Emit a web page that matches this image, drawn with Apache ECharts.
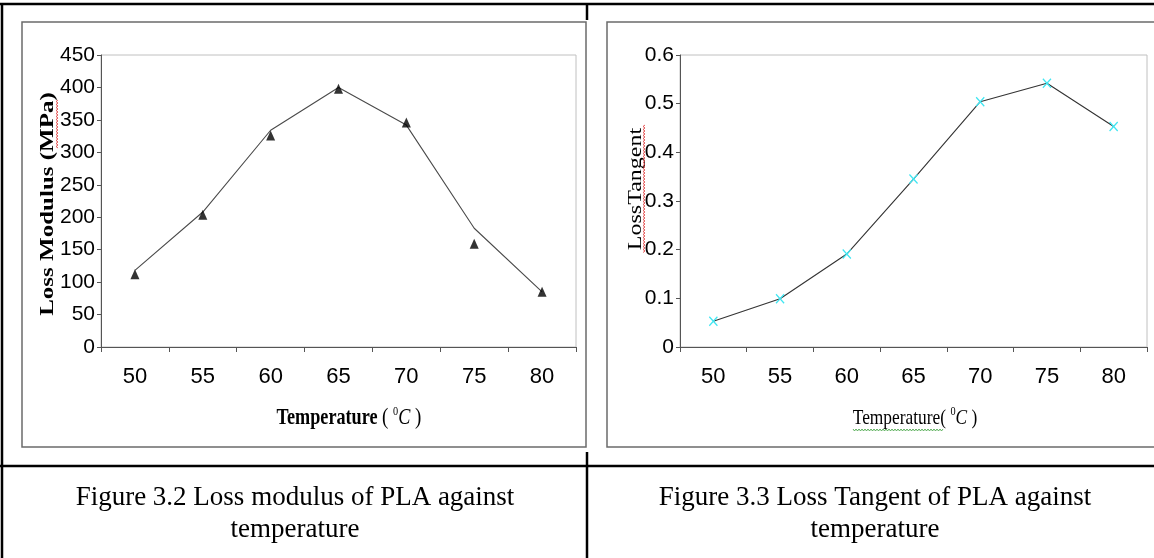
<!DOCTYPE html>
<html>
<head>
<meta charset="utf-8">
<script src="https://cdn.jsdelivr.net/npm/echarts@6/dist/echarts.min.js"></script>
<style>
html, body { margin: 0; padding: 0; background: #fff; }
#main { width: 1154px; height: 558px; }
</style>
</head>
<body>
<div id="main"></div>
<script>
// temperature categories (°C)
const temps = ['50', '55', '60', '65', '70', '75', '80'];
// Fig 3.2 - loss modulus (MPa): measured points and the drawn trend line
const lossModPoints = [112, 204, 326, 398, 346, 159, 85];
const lossModLine = [118, 208, 334, 400, 342, 183, 85];
// Fig 3.3 - loss tangent
const lossTangent = [0.053, 0.099, 0.191, 0.345, 0.504, 0.542, 0.453];

const captions = [
    'Figure 3.2 Loss modulus of PLA against\ntemperature',
    'Figure 3.3 Loss Tangent of PLA against\ntemperature'
];

const tickFont = '"Liberation Sans", Arial, sans-serif';
const serif = '"Liberation Serif", "DejaVu Serif", serif';
const squeeze = 0.79; // the chart pictures were squashed sideways

function xAxisFor(i) {
    return {
        type: 'category', gridIndex: i, data: temps, boundaryGap: true,
        axisLine: { lineStyle: { color: '#555', width: 1 } },
        axisTick: { show: true, length: 5, lineStyle: { color: '#555' } },
        axisLabel: { color: '#000', fontSize: 22, fontFamily: tickFont, margin: 19 },
        splitLine: { show: false }
    };
}
function yAxisFor(i, max, step) {
    return {
        type: 'value', gridIndex: i, min: 0, max: max, interval: step,
        axisLine: { show: true, lineStyle: { color: '#555', width: 1 } },
        axisTick: { show: true, length: 4, lineStyle: { color: '#555' } },
        axisLabel: { color: '#000', fontSize: 21, fontFamily: tickFont, margin: 6 },
        splitLine: { show: false }
    };
}

// wavy proofing underline (Word spell/grammar marks)
function squiggle(x1, y1, x2, y2, color) {
    let pts = [];
    let len = Math.hypot(x2 - x1, y2 - y1);
    let ux = (x2 - x1) / len, uy = (y2 - y1) / len;
    for (let d = 0, k = 0; d <= len; d += 1.5, k++) {
        let off = (k % 2) ? 1 : -1;
        pts.push([x1 + ux * d - uy * off, y1 + uy * d + ux * off]);
    }
    return { type: 'polyline', shape: { points: pts }, style: { stroke: color, lineWidth: 0.8, fill: null }, z: 10 };
}

const blackLine = { stroke: '#000', lineWidth: 2.5 };
const frame = { stroke: '#6b6b6b', lineWidth: 1.5, fill: null };

let myChart = echarts.init(document.getElementById('main'));
let option = {
    backgroundColor: '#fff',
    animation: false,
    grid: [
        { left: 101, top: 55, width: 475, height: 292, show: true, borderColor: '#c0c0c0', borderWidth: 1 },
        { left: 680, top: 55, width: 467, height: 292, show: true, borderColor: '#c0c0c0', borderWidth: 1 }
    ],
    xAxis: [xAxisFor(0), xAxisFor(1)],
    yAxis: [yAxisFor(0, 450, 50), yAxisFor(1, 0.6, 0.1)],
    series: [
        {
            type: 'line', xAxisIndex: 0, yAxisIndex: 0, data: lossModLine,
            showSymbol: false, lineStyle: { color: '#4a4a4a', width: 1.1 }, z: 2
        },
        {
            type: 'scatter', xAxisIndex: 0, yAxisIndex: 0, data: lossModPoints,
            symbol: 'triangle', symbolSize: [9, 10], itemStyle: { color: '#000' }, z: 3
        },
        {
            type: 'line', xAxisIndex: 1, yAxisIndex: 1, data: lossTangent,
            lineStyle: { color: '#333', width: 1.1 },
            symbol: 'path://M0,1L1,0L5,4L9,0L10,1L6,5L10,9L9,10L5,6L1,10L0,9L4,5Z',
            symbolSize: [9, 10], showAllSymbol: true,
            itemStyle: { color: '#3fe6f2' }
        }
    ],
    graphic: [
        // table rules
        { type: 'line', shape: { x1: 0, y1: 4, x2: 1154, y2: 4 }, style: blackLine },
        { type: 'line', shape: { x1: 2, y1: 4, x2: 2, y2: 558 }, style: blackLine },
        { type: 'line', shape: { x1: 0, y1: 466, x2: 1154, y2: 466 }, style: blackLine },
        { type: 'line', shape: { x1: 587, y1: 4, x2: 587, y2: 20 }, style: blackLine },
        { type: 'line', shape: { x1: 587, y1: 452, x2: 587, y2: 558 }, style: blackLine },
        // chart frames
        { type: 'rect', shape: { x: 22, y: 22, width: 564, height: 425 }, style: frame },
        { type: 'rect', shape: { x: 607, y: 22, width: 600, height: 425 }, style: frame },
        // axis titles, chart 1
        {
            type: 'text', x: 48, y: 204, rotation: Math.PI / 2, scaleY: squeeze,
            style: { text: 'Loss Modulus (MPa)', font: 'bold 25px ' + serif, fill: '#000', align: 'center', verticalAlign: 'middle' }
        },
        {
            type: 'text', x: 349, y: 418, scaleX: squeeze,
            style: {
                text: '{b|Temperature }{r|( }{s|0}{i|C}{r| )}', align: 'center', verticalAlign: 'middle', fill: '#000',
                rich: {
                    b: { font: 'bold 23px ' + serif, lineHeight: 26 },
                    r: { font: '24px ' + serif, lineHeight: 26 },
                    s: { font: '13px ' + serif, verticalAlign: 'top', lineHeight: 26 },
                    i: { font: 'italic 23px ' + serif, lineHeight: 26 }
                }
            }
        },
        // axis titles, chart 2
        {
            type: 'text', x: 636, y: 189, rotation: Math.PI / 2, scaleY: squeeze,
            style: { text: 'LossTangent', font: '24px ' + serif, fill: '#000', align: 'center', verticalAlign: 'middle' }
        },
        {
            type: 'text', x: 915, y: 418, scaleX: squeeze,
            style: {
                text: '{r|Temperature( }{s|0}{i|C}{r| )}', align: 'center', verticalAlign: 'middle', fill: '#000',
                rich: {
                    r: { font: '22px ' + serif, lineHeight: 26 },
                    s: { font: '13px ' + serif, verticalAlign: 'top', lineHeight: 26 },
                    i: { font: 'italic 22px ' + serif, lineHeight: 26 }
                }
            }
        },
        squiggle(57, 100, 57, 148, '#e03030'),
        squiggle(644, 125, 644, 253, '#e03030'),
        squiggle(853, 430, 944, 430, '#3aa03a'),
        // captions
        {
            type: 'text', x: 295, y: 514,
            style: { text: captions[0], font: '27px ' + serif, lineHeight: 32, fill: '#000', align: 'center', verticalAlign: 'middle' }
        },
        {
            type: 'text', x: 875, y: 514,
            style: { text: captions[1], font: '27px ' + serif, lineHeight: 32, fill: '#000', align: 'center', verticalAlign: 'middle' }
        }
    ]
};
myChart.setOption(option);
</script>
</body>
</html>
